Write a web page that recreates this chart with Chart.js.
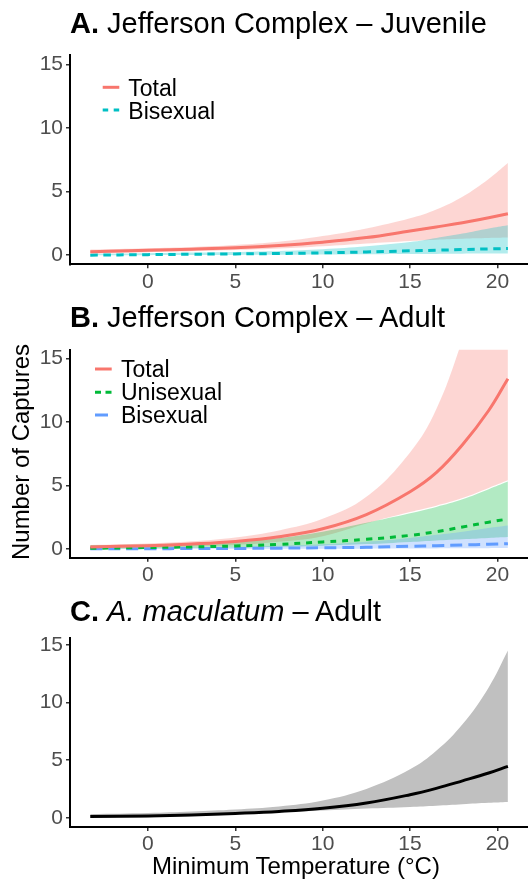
<!DOCTYPE html>
<html>
<head>
<meta charset="utf-8">
<script src="https://cdn.jsdelivr.net/npm/chart.js@4.4.1/dist/chart.umd.min.js"></script>
<style>
  body { margin: 0; background: #fff; }
  #wrap { position: relative; width: 528px; height: 880px; overflow: hidden; background: #fff; }
  canvas { position: absolute; left: 0; }
  svg { position: absolute; left: 0; top: 0; }
  svg text { font-family: "Liberation Sans", Arial, sans-serif; fill: #000; }
</style>
</head>
<body>
<div id="wrap">
  <canvas id="chartA" width="528" height="256" style="top:39px"></canvas>
  <canvas id="chartB" width="528" height="256" style="top:334px"></canvas>
  <canvas id="chartC" width="528" height="236" style="top:622px"></canvas>
  <svg width="528" height="880">
    <text x="70" y="33.3" font-size="29"><tspan font-weight="bold">A.</tspan> Jefferson Complex – Juvenile</text>
    <text x="70" y="326.7" font-size="29"><tspan font-weight="bold">B.</tspan> Jefferson Complex – Adult</text>
    <text x="70" y="620.7" font-size="29"><tspan font-weight="bold">C.</tspan> <tspan font-style="italic">A. maculatum</tspan> – Adult</text>

    <line x1="102.7" x2="119.3" y1="87.3" y2="87.3" stroke="#F8766D" stroke-width="3"/>
    <text x="128.3" y="95.7" font-size="23">Total</text>
    <line x1="102.7" x2="119.3" y1="110" y2="110" stroke="#00BFC4" stroke-width="3" stroke-dasharray="5.5,5.5"/>
    <text x="128.3" y="119" font-size="23">Bisexual</text>

    <line x1="95" x2="111.7" y1="369" y2="369" stroke="#F8766D" stroke-width="3"/>
    <text x="121" y="377.3" font-size="23">Total</text>
    <line x1="95" x2="111.7" y1="392.3" y2="392.3" stroke="#00BA38" stroke-width="3" stroke-dasharray="6,4.5"/>
    <text x="121" y="400" font-size="23">Unisexual</text>
    <line x1="95" x2="111.7" y1="415" y2="415" stroke="#619CFF" stroke-width="3" stroke-dasharray="13,6"/>
    <text x="121" y="423.3" font-size="23">Bisexual</text>

    <text transform="translate(29,452) rotate(-90)" text-anchor="middle" font-size="24">Number of Captures</text>
    <text x="296" y="874" text-anchor="middle" font-size="24">Minimum Temperature (°C)</text>
  </svg>
</div>
<script>
// minimum temperature (°C) at which the fitted curves were read
const temps = [-3.3, 0, 2.5, 5, 7.5, 10, 12.5, 15, 16.5, 18, 19.5, 20.6];
const xTicks = [0, 5, 10, 15, 20];
const yTicks = [0, 5, 10, 15];

// A. Jefferson Complex - Juvenile
const juvTotal   = [0.26, 0.38, 0.47, 0.58, 0.76, 1.02, 1.38, 1.9, 2.22, 2.55, 2.95, 3.25];
const juvTotalHi = [0.44, 0.55, 0.65, 0.8, 1.05, 1.5, 2.1, 2.9, 3.6, 4.6, 6.0, 7.25];
const juvTotalLo = [0.1, 0.22, 0.3, 0.4, 0.52, 0.7, 0.92, 1.12, 1.22, 1.3, 1.35, 1.38];
const juvBis     = [0.0, 0.04, 0.07, 0.1, 0.13, 0.18, 0.25, 0.34, 0.39, 0.44, 0.49, 0.52];
const juvBisHi   = [0.1, 0.15, 0.2, 0.25, 0.33, 0.47, 0.7, 1.03, 1.35, 1.7, 2.1, 2.35];
const juvBisLo   = [0.0, 0.0, 0.01, 0.02, 0.03, 0.05, 0.07, 0.09, 0.1, 0.11, 0.12, 0.13];

// B. Jefferson Complex - Adult
const adTotal   = [0.15, 0.25, 0.38, 0.58, 0.95, 1.58, 2.7, 4.5, 6.0, 8.2, 10.9, 13.4];
const adTotalHi = [0.3, 0.42, 0.6, 0.9, 1.45, 2.36, 4.1, 7.6, 11.0, 16.5, 23, 29];
const adTotalLo = [0.05, 0.1, 0.18, 0.3, 0.55, 1.0, 2.0, 2.9, 3.4, 4.0, 4.8, 5.4];
const adUni     = [0.04, 0.1, 0.15, 0.22, 0.35, 0.54, 0.75, 1.06, 1.35, 1.72, 2.1, 2.35];
const adUniHi   = [0.3, 0.35, 0.45, 0.6, 0.85, 1.35, 2.05, 2.8, 3.3, 3.9, 4.7, 5.3];
const adUniLo   = [0.0, 0.03, 0.06, 0.1, 0.16, 0.25, 0.37, 0.54, 0.66, 0.76, 0.86, 0.93];
const adBis     = [0.0, 0.01, 0.02, 0.03, 0.05, 0.08, 0.12, 0.2, 0.25, 0.3, 0.36, 0.4];
const adBisHi   = [0.03, 0.06, 0.1, 0.15, 0.25, 0.36, 0.55, 0.85, 1.1, 1.35, 1.65, 1.84];
const adBisLo   = [0, 0, 0, 0, 0, 0.01, 0.01, 0.02, 0.03, 0.04, 0.05, 0.06];

// C. A. maculatum - Adult
const macTotal   = [0.1, 0.16, 0.25, 0.38, 0.55, 0.82, 1.28, 2.0, 2.55, 3.2, 3.88, 4.46];
const macTotalHi = [0.32, 0.42, 0.55, 0.72, 0.98, 1.5, 2.5, 4.2, 5.8, 8.1, 11.3, 14.5];
const macTotalLo = [0.0, 0.05, 0.15, 0.28, 0.45, 0.62, 0.8, 0.94, 1.05, 1.18, 1.3, 1.37];

const RED = '#F8766D', TEAL = '#00BFC4', GREEN = '#00BA38', BLUE = '#619CFF';

function pts(arr) {
  return arr.map((y, i) => ({ x: temps[i], y: y }));
}

function band(hi, lo, color, order) {
  return [
    { data: pts(hi), fill: '+1', backgroundColor: color, borderWidth: 0, pointRadius: 0, order: order },
    { data: pts(lo), fill: false, borderWidth: 0, pointRadius: 0, order: order }
  ];
}

function line(vals, color, dash) {
  return { data: pts(vals), fill: false, borderColor: color, borderWidth: 3, borderDash: dash || [],
           borderCapStyle: 'butt', pointRadius: 0, order: 0 };
}

function makeChart(id, datasets, yMin, yMax, padTop, xHeight) {
  return new Chart(document.getElementById(id), {
    type: 'line',
    data: { datasets: datasets },
    options: {
      responsive: false,
      animation: false,
      events: [],
      layout: { padding: { top: padTop, right: 0, left: 0, bottom: 0 } },
      elements: { line: { tension: 0.4 } },
      plugins: {
        legend: { display: false },
        tooltip: { enabled: false },
        filler: { drawTime: 'beforeDatasetsDraw' }
      },
      scales: {
        x: {
          type: 'linear', min: -4.46, max: 21.75,
          afterBuildTicks: s => { s.ticks = xTicks.map(v => ({ value: v })); },
          afterFit: s => { s.height = xHeight; },
          grid: { drawOnChartArea: false, drawTicks: true, tickLength: 4, color: '#333', lineWidth: 1.5 },
          border: { display: true, color: '#000', width: 2 },
          ticks: { color: '#4D4D4D', font: { size: 21 }, padding: 1, maxRotation: 0 }
        },
        y: {
          type: 'linear', min: yMin, max: yMax,
          afterBuildTicks: s => { s.ticks = yTicks.map(v => ({ value: v })); },
          afterFit: s => { s.width = 70; },
          grid: { drawOnChartArea: false, drawTicks: true, tickLength: 4, color: '#333', lineWidth: 1.5 },
          border: { display: true, color: '#000', width: 2 },
          ticks: { color: '#4D4D4D', font: { size: 21 }, padding: 3 }
        }
      }
    }
  });
}

Chart.defaults.font.family = '"Liberation Sans", Arial, sans-serif';

makeChart('chartA', [
  line(juvTotal, RED),
  line(juvBis, TEAL, [7.5, 5.5]),
  ...band(juvBisHi, juvBisLo, 'rgba(0,191,196,0.3)', 1),
  ...band(juvTotalHi, juvTotalLo, 'rgba(248,118,109,0.3)', 2)
], -0.72, 15.78, 13.3, 30.7);

makeChart('chartB', [
  line(adTotal, RED),
  line(adUni, GREEN, [6, 6]),
  line(adBis, BLUE, [12, 6]),
  ...band(adBisHi, adBisLo, 'rgba(97,156,255,0.3)', 1),
  ...band(adUniHi, adUniLo, 'rgba(0,186,56,0.3)', 2),
  ...band(adTotalHi, adTotalLo, 'rgba(248,118,109,0.3)', 3)
], -0.7, 15.7, 12.7, 32.3);

makeChart('chartC', [
  line(macTotal, '#000'),
  ...band(macTotalHi, macTotalLo, 'rgb(192,192,192)', 1)
], -0.8, 15.62, 13, 31);
</script>
</body>
</html>
